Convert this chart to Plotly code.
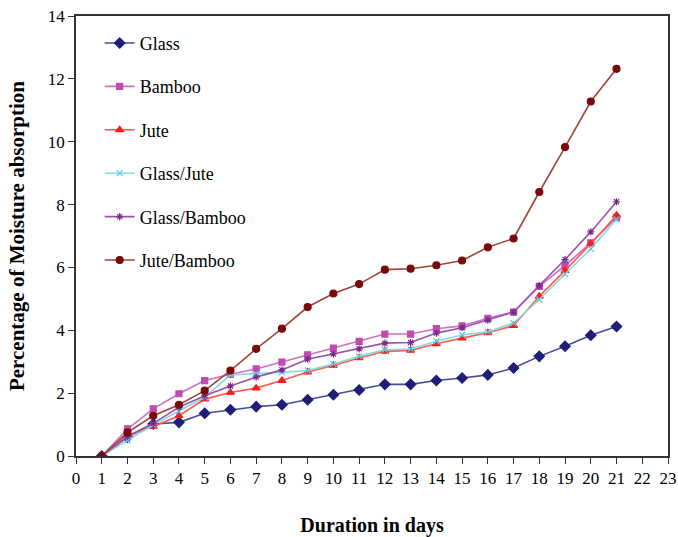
import plotly.graph_objects as go

days = list(range(1, 22))

glass = [0, 0.6, 1.02, 1.07, 1.36, 1.47, 1.57, 1.63, 1.79, 1.95, 2.1, 2.28, 2.28, 2.4, 2.48, 2.58, 2.8, 3.17, 3.49, 3.84, 4.12]
bamboo = [0, 0.86, 1.5, 1.98, 2.4, 2.6, 2.77, 2.99, 3.22, 3.43, 3.65, 3.88, 3.88, 4.05, 4.14, 4.38, 4.58, 5.4, 6.06, 6.78, 7.58]
jute = [0, 0.65, 0.94, 1.28, 1.81, 2.02, 2.16, 2.4, 2.67, 2.88, 3.12, 3.33, 3.36, 3.57, 3.75, 3.92, 4.15, 5.08, 5.9, 6.75, 7.66]
glass_jute = [0, 0.5, 0.99, 1.43, 1.87, 2.58, 2.61, 2.66, 2.72, 2.93, 3.17, 3.38, 3.4, 3.65, 3.85, 3.95, 4.23, 4.98, 5.79, 6.59, 7.53]
glass_bamboo = [0, 0.62, 1.04, 1.55, 1.92, 2.23, 2.51, 2.74, 3.08, 3.25, 3.41, 3.59, 3.61, 3.91, 4.08, 4.32, 4.58, 5.42, 6.25, 7.13, 8.09]
jute_bamboo = [0, 0.75, 1.28, 1.63, 2.08, 2.72, 3.41, 4.05, 4.74, 5.17, 5.47, 5.93, 5.96, 6.07, 6.22, 6.64, 6.92, 8.4, 9.83, 11.28, 12.32]

series = [
    ("Glass", glass, "diamond", "#1E1E78", "#4A4A9A", 8),
    ("Bamboo", bamboo, "square", "#C04AB0", "#CF6FC2", 6),
    ("Jute", jute, "triangle-up", "#FF1A1A", "#FF5A4A", 7),
    ("Glass/Jute", glass_jute, "x-thin", "#5CC8DC", "#86D8E6", 6),
    ("Glass/Bamboo", glass_bamboo, "asterisk", "#7A2A8A", "#9A55AA", 6),
    ("Jute/Bamboo", jute_bamboo, "circle", "#7A0A0A", "#A04538", 7),
]

fig = go.Figure()
for name, vals, sym, mcol, lcol, msize in series:
    fig.add_trace(go.Scatter(
        x=days, y=vals, name=name, mode="lines+markers", legendgroup=name,
        line=dict(color=lcol, width=1.6),
        marker=dict(symbol=sym, size=msize, color=mcol,
                    line=dict(color=mcol, width=1.2)),
    ))

font_family = "Liberation Serif, Times New Roman, serif"

fig.update_layout(
    width=678, height=537,
    paper_bgcolor="white", plot_bgcolor="white",
    margin=dict(l=76, r=10, t=16, b=81),
    font=dict(family=font_family, size=17, color="black"),
    showlegend=True,
    legend=dict(
        x=0.04, y=0.98, xanchor="left", yanchor="top",
        bgcolor="rgba(0,0,0,0)", font=dict(size=18, family=font_family),
        tracegroupgap=17, itemsizing="trace", itemwidth=30,
    ),
    xaxis=dict(
        range=[0, 23], tickmode="linear", tick0=0, dtick=1,
        showgrid=False, zeroline=False, automargin=False,
        showline=True, linecolor="#333333", linewidth=1.5, mirror=True,
        ticks="outside", ticklen=6, tickcolor="#333333",
        tickfont=dict(size=17, family=font_family),
        ticklabeloverflow="allow",
        title=dict(text="<b>Duration in days</b>", standoff=31,
                   font=dict(size=20, family=font_family)),
    ),
    yaxis=dict(
        range=[0, 14], tickmode="linear", tick0=0, dtick=2,
        showgrid=False, zeroline=False, automargin=False,
        showline=True, linecolor="#333333", linewidth=1.5, mirror=True,
        ticks="outside", ticklen=6, tickcolor="#333333",
        tickfont=dict(size=17, family=font_family),
        ticklabeloverflow="allow",
        title=dict(text="<b>Percentage of Moisture absorption</b>", standoff=17,
                   font=dict(size=21, family=font_family)),
    ),
)

fig.write_html(
    "out.html",
    config={"displayModeBar": False},
    post_script="document.body.style.margin='0';document.body.style.overflow='hidden';",
)
